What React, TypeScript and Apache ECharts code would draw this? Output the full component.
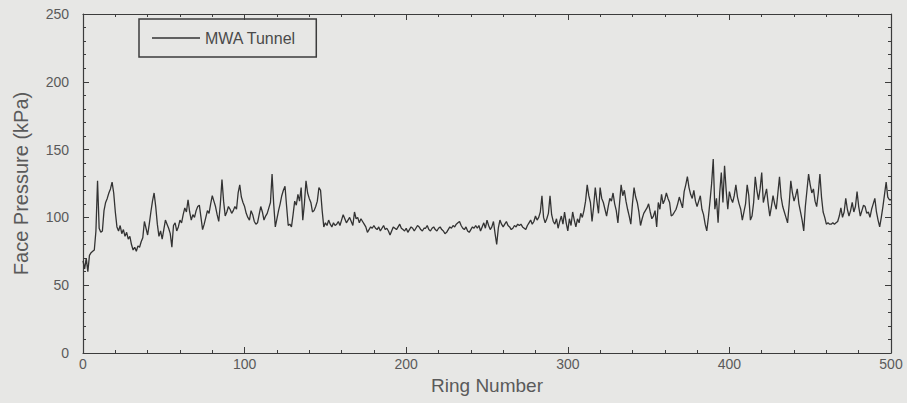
import React, { useEffect, useRef } from "react";
import * as echarts from "echarts";

// Face pressure (kPa) per ring, ring 0..500
const rings0to99 = [
  68, 62, 70, 60, 72, 74, 75, 76, 90, 127, 92, 89, 90, 105, 111, 114, 118, 121, 126, 118,
  104, 93, 90, 94, 88, 91, 86, 89, 84, 86, 80, 76, 78, 75, 79, 78, 82, 85, 97, 92,
  87, 95, 104, 112, 118, 108, 95, 86, 90, 84, 91, 98, 95, 92, 88, 78, 94, 96, 90, 93,
  98, 96, 102, 107, 104, 113, 104, 98, 102, 100, 105, 108, 109, 100, 91, 95, 100, 105, 103, 110,
  116, 112, 108, 102, 97, 110, 128, 112, 101, 104, 108, 106, 103, 105, 108, 106, 118, 124, 115, 111,
];
const rings100to199 = [
  108, 103, 100, 98, 105, 102, 97, 95, 96, 102, 108, 104, 98, 101, 103, 107, 111, 132, 110, 93,
  99, 105, 110, 116, 120, 123, 108, 94, 95, 93, 102, 112, 109, 117, 112, 122, 98, 110, 127, 118,
  114, 111, 104, 105, 108, 112, 122, 120, 105, 93, 96, 94, 98, 95, 93, 96, 94, 95, 97, 94,
  98, 102, 99, 96, 98, 100, 97, 94, 104, 99, 100, 96, 99, 97, 95, 93, 89, 91, 93, 92,
  94, 92, 91, 93, 90, 92, 94, 91, 92, 90, 87, 90, 93, 92, 91, 93, 95, 92, 91, 90,
];
const rings200to299 = [
  92, 89, 91, 93, 92, 90, 92, 94, 93, 91, 90, 92, 92, 94, 91, 90, 92, 93, 91, 90,
  92, 93, 91, 90, 88, 89, 91, 93, 92, 94, 93, 95, 96, 97, 94, 92, 91, 93, 90, 89,
  91, 93, 92, 94, 92, 94, 90, 93, 96, 92, 98, 94, 91, 93, 97, 88, 80, 92, 98, 95,
  93, 95, 97, 94, 93, 91, 92, 94, 93, 95, 94, 95, 93, 92, 91, 94, 96, 98, 95, 97,
  101, 98, 100, 104, 116, 100, 96, 99, 103, 116, 102, 97, 95, 99, 92, 97, 101, 95, 104, 96,
];
const rings300to399 = [
  90, 99, 94, 104, 98, 93, 99, 96, 103, 100, 105, 112, 124, 116, 111, 97, 108, 122, 112, 103,
  122, 114, 111, 106, 101, 108, 114, 112, 118, 110, 105, 96, 110, 124, 116, 120, 112, 106, 101, 95,
  110, 122, 115, 111, 104, 94, 99, 103, 105, 107, 110, 104, 99, 101, 105, 93, 111, 106, 117, 110,
  113, 118, 114, 111, 101, 102, 104, 106, 110, 115, 111, 107, 119, 124, 130, 122, 117, 114, 120, 112,
  108, 112, 116, 106, 102, 95, 90, 100, 112, 125, 143, 106, 114, 96, 118, 133, 111, 138, 120, 106,
];
const rings400to500 = [
  119, 114, 111, 116, 124, 115, 110, 106, 98, 104, 110, 124, 116, 98, 101, 111, 130, 120, 113, 121,
  133, 111, 116, 121, 110, 101, 108, 116, 110, 106, 118, 130, 115, 108, 104, 100, 96, 110, 127, 118,
  112, 116, 121, 110, 104, 98, 90, 108, 120, 132, 124, 118, 121, 112, 108, 118, 132, 115, 104, 100,
  95, 96, 95, 95, 96, 95, 96, 97, 101, 107, 100, 104, 114, 106, 101, 105, 111, 104, 108, 119,
  108, 101, 105, 109, 108, 103, 104, 100, 106, 110, 114, 104, 98, 93, 100, 108, 117, 126, 115, 113, 113,
];

const seriesName = "MWA Tunnel";
const xTicks = [0, 100, 200, 300, 400, 500];
const yTicks = [0, 50, 100, 150, 200, 250];

export default function App() {
  const ref = useRef<HTMLDivElement>(null);
  useEffect(() => {
    if (!ref.current) return;
    const chart = echarts.init(ref.current, undefined, { renderer: "svg" });
    const all = [
      ...rings0to99,
      ...rings100to199,
      ...rings200to299,
      ...rings300to399,
      ...rings400to500,
    ];
    const data = all.map((v, i) => [i, v]);
    const axisColor = "#3c3c3c";
    const textColor = "#5a5a5a";
    const font = "Liberation Sans, Arial, sans-serif";
    const xBase = {
      type: "value" as const,
      min: xTicks[0],
      max: xTicks[xTicks.length - 1],
      interval: 100,
      splitLine: { show: false },
      axisLine: { show: true, onZero: false, lineStyle: { color: axisColor, width: 1.2 } },
      axisTick: { show: true, inside: true, length: 6, lineStyle: { color: axisColor } },
      minorTick: { show: true, splitNumber: 5, length: 3, lineStyle: { color: axisColor } },
    };
    const yBase = {
      type: "value" as const,
      min: yTicks[0],
      max: yTicks[yTicks.length - 1],
      interval: 50,
      splitLine: { show: false },
      axisLine: { show: true, onZero: false, lineStyle: { color: axisColor, width: 1.2 } },
      axisTick: { show: true, inside: true, length: 6, lineStyle: { color: axisColor } },
      minorTick: { show: true, splitNumber: 5, length: 3, lineStyle: { color: axisColor } },
    };
    chart.setOption({
      animation: false,
      backgroundColor: "#e7e7e5",
      textStyle: { fontFamily: font },
      grid: { left: 83, right: 16, top: 14, bottom: 50 },
      legend: {
        show: true,
        left: 139,
        top: 19,
        data: [seriesName],
        icon: "rect",
        itemWidth: 48,
        itemHeight: 1.5,
        itemGap: 8,
        padding: [11, 20, 11, 13],
        borderColor: "#3c3c3c",
        borderWidth: 1.5,
        textStyle: { color: "#4a4a4a", fontSize: 16, fontFamily: font },
      },
      xAxis: [
        {
          ...xBase,
          position: "bottom",
          name: "Ring Number",
          nameLocation: "middle",
          nameGap: 20,
          nameTextStyle: { color: textColor, fontSize: 19, fontFamily: font },
          axisLabel: { color: textColor, fontSize: 14, margin: 4, fontFamily: font },
        },
        {
          ...xBase,
          position: "top",
          axisLabel: { show: false },
        },
      ],
      yAxis: [
        {
          ...yBase,
          position: "left",
          name: "Face Pressure (kPa)",
          nameLocation: "middle",
          nameGap: 52,
          nameTextStyle: { color: textColor, fontSize: 20, fontFamily: font },
          axisLabel: { color: textColor, fontSize: 14, margin: 14, fontFamily: font },
        },
        {
          ...yBase,
          position: "right",
          axisLabel: { show: false },
        },
      ],
      series: [
        {
          name: seriesName,
          type: "line",
          data,
          xAxisIndex: 0,
          yAxisIndex: 0,
          showSymbol: false,
          symbol: "none",
          lineStyle: { color: "#333333", width: 1.3 },
          itemStyle: { color: "#333333" },
        },
      ],
    });
    return () => chart.dispose();
  }, []);
  return <div ref={ref} style={{ width: 907, height: 403, position: "absolute", left: 0, top: 0 }} />;
}
